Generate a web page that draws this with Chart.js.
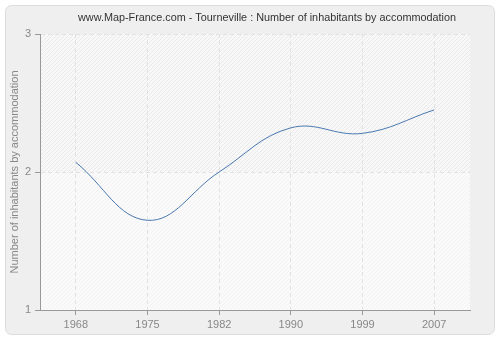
<!DOCTYPE html>
<html>
<head>
<meta charset="utf-8">
<script src="https://cdn.jsdelivr.net/npm/chart.js@4/dist/chart.umd.min.js"></script>
<style>
  html, body { margin: 0; padding: 0; background: #fff; }
  #wrap { width: 500px; height: 340px; position: relative; }
</style>
</head>
<body>
<div id="wrap"><canvas id="chart" width="500" height="340"></canvas></div>
<script>
const years = ['1968', '1975', '1982', '1990', '1999', '2007'];
const inhabitants = [2.07, 1.65, 2.0, 2.32, 2.28, 2.45];
const yTicks = [1, 2, 3];
const chartTitle = 'www.Map-France.com - Tourneville : Number of inhabitants by accommodation';
const yTitle = 'Number of inhabitants by accommodation';

const fontFamily = 'Arial, "Liberation Sans", sans-serif';

// hatch pattern for the plot area, period 4px, lines going "/"
function makeHatch(bg, lineColor) {
  const c = document.createElement('canvas');
  c.width = 4; c.height = 4;
  const g = c.getContext('2d');
  g.fillStyle = bg;
  g.fillRect(0, 0, 4, 4);
  g.fillStyle = lineColor;
  for (let i = 0; i < 4; i++) g.fillRect(3 - i, i, 1, 1);
  return c;
}

// panel background, hatch and title
const backdrop = {
  id: 'backdrop',
  beforeDraw(chart) {
    const ctx = chart.ctx;
    const a = chart.chartArea;
    ctx.save();
    ctx.fillStyle = '#ffffff';
    ctx.fillRect(0, 0, chart.width, chart.height);
    ctx.beginPath();
    ctx.roundRect(5.5, 5.5, 489, 329, 6);
    ctx.fillStyle = '#efefef';
    ctx.fill();
    ctx.strokeStyle = '#dcdcdc';
    ctx.lineWidth = 1;
    ctx.stroke();

    const y2 = chart.scales.y.getPixelForValue(2);
    ctx.fillStyle = ctx.createPattern(makeHatch('#fafafa', '#f3f3f3'), 'repeat');
    ctx.fillRect(a.left, y2, a.right - a.left, a.bottom - y2);
    ctx.fillStyle = ctx.createPattern(makeHatch('#f8f8f8', '#e9e9e9'), 'repeat');
    ctx.fillRect(a.left, a.top, a.right - a.left, y2 - a.top);

    // title, sized to the reference width
    ctx.font = '12px ' + fontFamily;
    const w = ctx.measureText(chartTitle).width;
    const size = Math.min(12, 12 * 378 / w);
    ctx.font = size.toFixed(2) + 'px ' + fontFamily;
    ctx.fillStyle = '#333333';
    ctx.textAlign = 'center';
    ctx.textBaseline = 'middle';
    ctx.fillText(chartTitle, 267, 18);
    ctx.restore();
  }
};

new Chart(document.getElementById('chart'), {
  type: 'line',
  data: {
    labels: years,
    datasets: [{
      data: inhabitants,
      borderColor: '#4a78b0',
      borderWidth: 1,
      pointRadius: 0,
      fill: false,
      tension: 0.4
    }]
  },
  options: {
    responsive: false,
    animation: false,
    devicePixelRatio: 1,
    layout: { padding: { top: 34, right: 30, left: 0, bottom: 0 } },
    plugins: {
      legend: { display: false },
      tooltip: { enabled: false },
      title: { display: false }
    },
    scales: {
      x: {
        offset: true,
        grid: {
          offset: false,
          color: '#e2e2e2',
          tickColor: '#999999',
          tickLength: 5
        },
        border: { color: '#999999', width: 1, dash: [4, 3] },
        ticks: {
          color: '#888888',
          font: { family: fontFamily, size: 11 },
          padding: 3,
          maxRotation: 0
        },
        afterFit(scale) { scale.height = 30; }
      },
      y: {
        min: 1,
        max: 3,
        afterBuildTicks(scale) { scale.ticks = yTicks.map(v => ({ value: v })); },
        grid: {
          color: '#e2e2e2',
          tickColor: '#999999',
          tickLength: 5
        },
        border: { color: '#999999', width: 1, dash: [4, 3] },
        ticks: {
          color: '#888888',
          font: { family: fontFamily, size: 11 },
          padding: 4
        },
        title: {
          display: true,
          text: yTitle,
          color: '#888888',
          font: { family: fontFamily, size: 11 },
          padding: { top: 8, bottom: 0 }
        },
        afterFit(scale) { scale.width = 40; }
      }
    }
  },
  plugins: [backdrop]
});
</script>
</body>
</html>
